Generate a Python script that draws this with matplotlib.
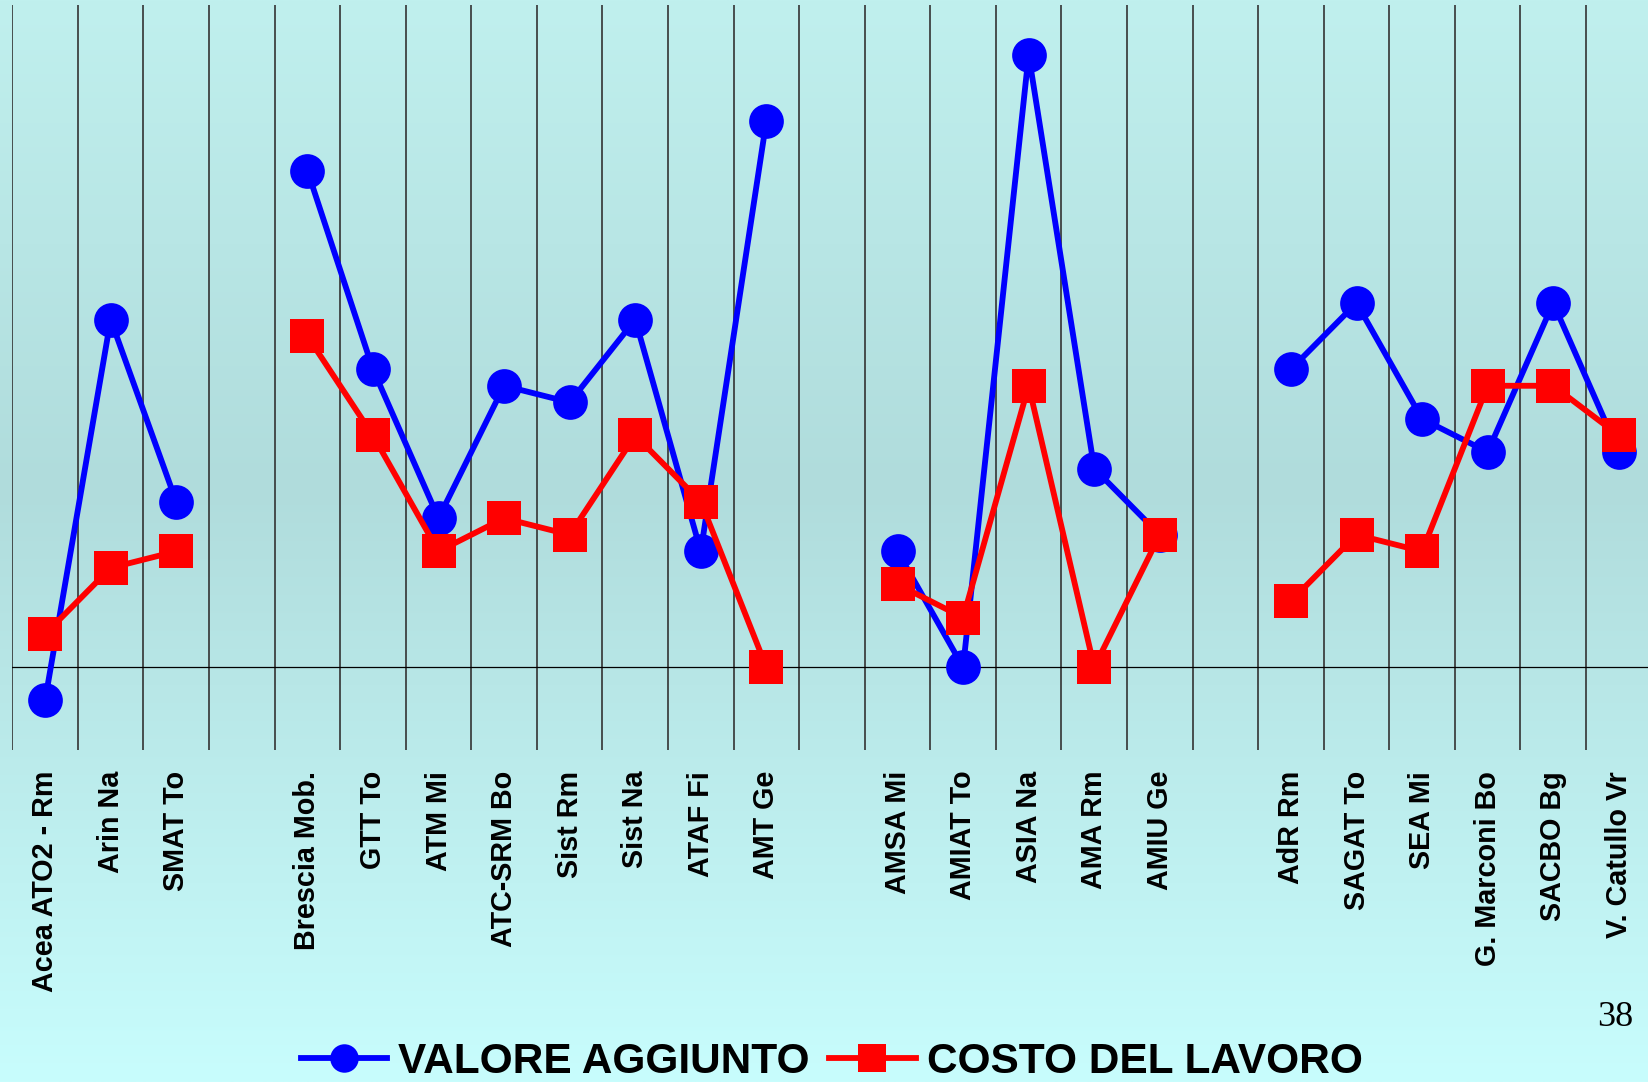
import numpy as np
import matplotlib
matplotlib.use("Agg")
import matplotlib.pyplot as plt
from matplotlib.lines import Line2D

nan = np.nan
categories = ["Acea ATO2 - Rm", "Arin Na", "SMAT To", "",
              "Brescia Mob.", "GTT To", "ATM Mi", "ATC-SRM Bo", "Sist Rm",
              "Sist Na", "ATAF Fi", "AMT Ge", "",
              "AMSA Mi", "AMIAT To", "ASIA Na", "AMA Rm", "AMIU Ge", "",
              "AdR Rm", "SAGAT To", "SEA Mi", "G. Marconi Bo", "SACBO Bg",
              "V. Catullo Vr"]
valore_aggiunto = [-2, 21, 10, nan, 30, 18, 9, 17, 16, 21, 7, 33, nan,
                   7, 0, 37, 12, 8, nan, 18, 22, 15, 13, 22, 13]
costo_lavoro = [2, 6, 7, nan, 20, 14, 7, 9, 8, 14, 10, 0, nan,
                5, 3, 17, 0, 8, nan, 4, 8, 7, 17, 17, 14]
series_names = ["VALORE AGGIUNTO", "COSTO DEL LAVORO"]
page_number = "38"

W, H = 1648, 1082
fig = plt.figure(figsize=(W / 100, H / 100), dpi=100)

# background gradient
bg = fig.add_axes([0, 0, 1, 1], zorder=-10)
t = np.linspace(0, 1, 512)
stops = [0.0, 0.45, 1.0]
cols = np.array([[192, 240, 238], [176, 220, 220], [200, 253, 253]]) / 255.0
grad = np.stack([np.interp(t, stops, cols[:, i]) for i in range(3)], axis=1)
img = np.repeat(grad[:, None, :], 4, axis=1)
bg.imshow(img, aspect="auto", extent=[0, 1, 0, 1], origin="upper")
bg.set_axis_off()

left = 12.3 / W
width = 1639.3 / W
bottom = 1 - 750 / H
top = 1 - 5 / H
ax = fig.add_axes([left, bottom, width, top - bottom])
ax.set_facecolor("none")

x = np.arange(len(categories))
ax.set_xlim(-0.5, len(categories) - 0.5)
ax.set_ylim(-5, 40)

for b in np.arange(-0.5, len(categories) - 0.5, 1.0):
    ax.axvline(b, color="#333333", lw=1.2, zorder=1)
ax.axhline(0, color="black", lw=0.9, zorder=1)

ax.plot(x, valore_aggiunto, color="#0000FF", lw=4.2, marker="o", ms=25,
        mew=0, zorder=3, solid_joinstyle="round")
ax.plot(x, costo_lavoro, color="#FF0000", lw=4.2, marker="s", ms=25,
        mew=0, zorder=4, solid_joinstyle="round")

for s in ax.spines.values():
    s.set_visible(False)
ax.set_yticks([])
ax.set_xticks(x)
ax.set_xticklabels(categories, rotation=90, fontsize=20.7,
                   fontweight="bold", family="Liberation Sans")
ax.tick_params(axis="x", length=0, pad=15)

handles = [Line2D([], [], color="#0000FF", lw=4.2, marker="o", ms=20.5, mew=0),
           Line2D([], [], color="#FF0000", lw=4.2, marker="s", ms=20.5, mew=0)]
fig.legend(handles, series_names, loc="center", bbox_to_anchor=(0.5046, 0.0185),
           ncol=2, frameon=False, handlelength=2.05, handletextpad=0.26,
           columnspacing=0.45, borderpad=0, borderaxespad=0,
           prop={"family": "Liberation Sans", "weight": "bold", "size": 30.5})

fig.text(1615 / W, 1 - 1018 / H, page_number, ha="center", va="center",
         fontsize=26, family="Liberation Serif")

fig.savefig("out.png", dpi=100)
